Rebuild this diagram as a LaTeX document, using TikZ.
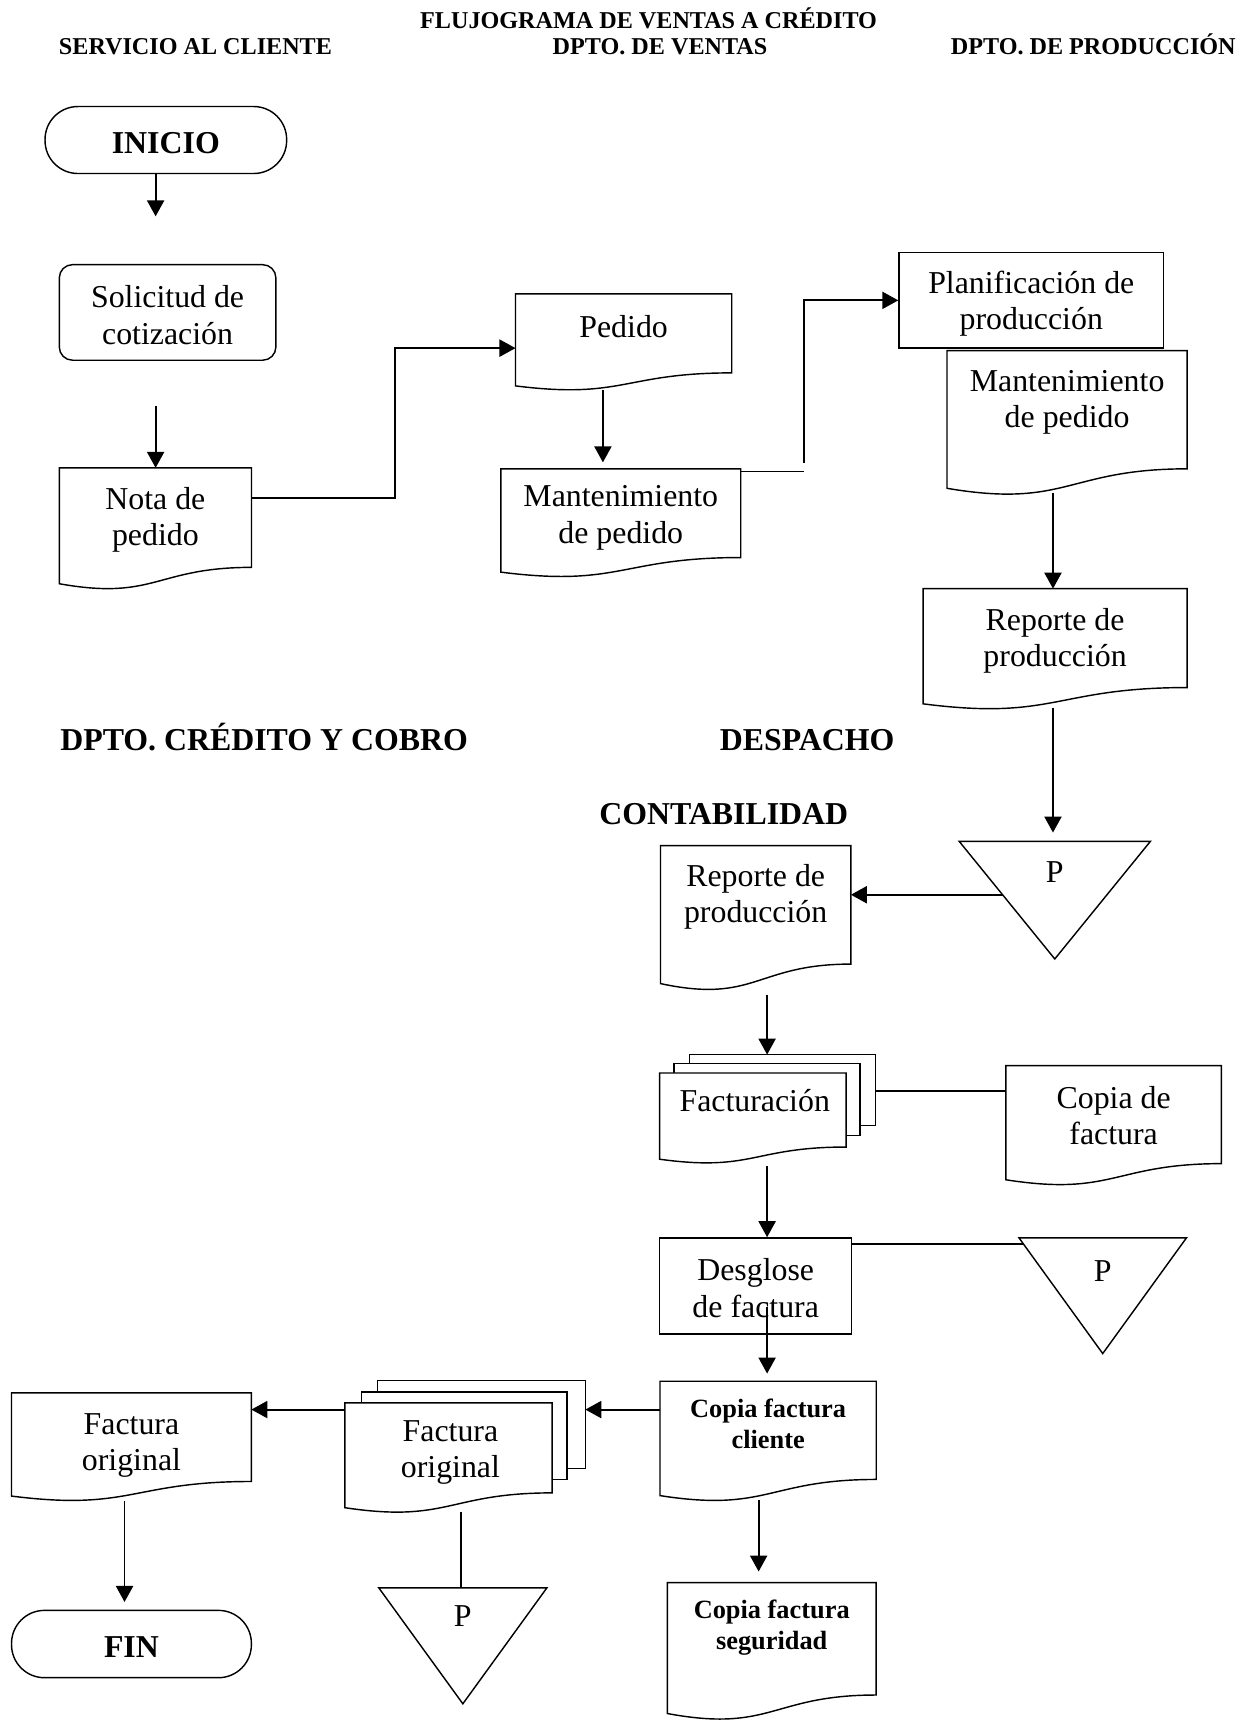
\documentclass[tikz,border=0pt]{standalone}
\usepackage{fontspec}
\setmainfont{Liberation Serif}
\usetikzlibrary{arrows.meta,calc}
\pgfdeclarelayer{bg}
\pgfsetlayers{bg,main}

% document symbol: flat top, wavy bottom (right end higher than left end)
\newcommand\flowdoc[1]{%
  \draw[outl] (#1.north west) -- (#1.north east)
    -- ($(#1.north east)!0.802!(#1.south east)$)
    .. controls ($(#1.north)!0.802!(#1.south)$) and ($(#1.north)!1.072!(#1.south)$)
    .. ($(#1.north west)!0.934!(#1.south west)$) -- cycle;}
% merge symbol: triangle pointing down inside the node's box
\newcommand\flowtri[1]{%
  \draw[outl] (#1.north west) -- (#1.north east) -- (#1.south) -- cycle;}

\tikzset{
  outl/.style={draw=black, line width=0.65pt, fill=white},
  arr/.style={draw=black, line width=0.85pt, -{Triangle[length=7.3pt,width=7.8pt]}},
  ln/.style={draw=black, line width=0.85pt},
  area/.style={draw=none, inner sep=0pt, outer sep=0pt, anchor=north west},
  body/.style={font=\fontsize{14.5}{16.5}\selectfont, align=center, inner sep=0pt},
  bodyb/.style={font=\fontsize{12}{14}\selectfont\bfseries, align=center, inner sep=0pt},
  caps/.style={font=\fontsize{14.5}{16.5}\selectfont\bfseries, inner sep=0pt, text height=9.6pt, text depth=0pt},
  hdr/.style={font=\fontsize{11}{13}\selectfont\bfseries, inner sep=0pt, text height=7.3pt, text depth=0pt},
  term/.style={draw=black, line width=0.65pt, rounded corners=15pt, inner sep=0pt,
    font=\fontsize{14.5}{16.5}\selectfont\bfseries, text height=12.6pt, text depth=0pt},
  rbox/.style={draw=black, line width=0.65pt, inner sep=0pt},
}

\begin{document}
\begin{tikzpicture}[x=0.5pt,y=-0.5pt]
\useasboundingbox (0,0) rectangle (1136,1568);

% headings
\node[hdr] (title) at (590.6,19) {FLUJOGRAMA DE VENTAS A CRÉDITO};
\node[hdr] (hsc) at (178,42) {SERVICIO AL CLIENTE};
\node[hdr] (hdv) at (601,42) {DPTO. DE VENTAS};
\node[hdr] (hdp) at (995.5,42) {DPTO. DE PRODUCCIÓN};
\node[caps] (hcc) at (240.5,674) {DPTO. CRÉDITO Y COBRO};
\node[caps] (hdes) at (735,674) {DESPACHO};
\node[caps] (hcon) at (659,741) {CONTABILIDAD};

% servicio al cliente
\node[term, minimum width=110pt, minimum height=30.5pt] (inicio) at (151,127.5) {INICIO};
\node[rbox, rounded corners=6pt, minimum width=98.6pt, minimum height=43.5pt,
  label={[body,anchor=center,yshift=-1.25pt]center:{Solicitud de\\cotización}}] (solicitud) at (152.6,284.5) {};
\node[area, minimum width=87.5pt, minimum height=56.5pt,
  label={[body,anchor=center,yshift=-23.75pt]north:{Nota de\\pedido}}] (nota) at (54,426) {};

% ventas
\node[area, minimum width=98.45pt, minimum height=44.85pt,
  label={[body,anchor=center,yshift=-14.7pt]north:{Pedido}}] (pedido) at (469.4,267.6) {};
\node[area, minimum width=109.25pt, minimum height=50.3pt,
  label={[body,anchor=center,yshift=-22.25pt]north:{Mantenimiento\\de pedido}}] (mant1) at (456,427) {};

% produccion
\node[rbox, minimum width=120.45pt, minimum height=43.5pt,
  label={[body,anchor=center,yshift=-1.5pt]center:{Planificación de\\producción}}] (plan) at (939.05,273.5) {};
\node[area, minimum width=109.35pt, minimum height=67.15pt,
  label={[body,anchor=center,yshift=-23.7pt]north:{Mantenimiento\\de pedido}}] (mant2) at (862.3,319.2) {};
\node[area, minimum width=120.25pt, minimum height=56.15pt,
  label={[body,anchor=center,yshift=-23.75pt]north:{Reporte de\\producción}}] (rep1) at (840.5,536) {};
\node[area, minimum width=87.05pt, minimum height=53.55pt,
  label={[body,anchor=center,yshift=-14.15pt]north:{P}}] (tri1) at (873.4,766.1) {};

% contabilidad
\node[area, minimum width=86.7pt, minimum height=67.25pt,
  label={[body,anchor=center,yshift=-23.45pt]north:{Reporte de\\producción}}] (rep2) at (601.4,770) {};
\node[area, minimum width=84.85pt, minimum height=42.05pt,
  label={[body,anchor=center,yshift=-12.6pt,xshift=0.85pt]north:{Facturación}}] (fact) at (600.7,977) {};
\node[area, minimum width=98.15pt, minimum height=55.65pt,
  label={[body,anchor=center,yshift=-22.65pt]north:{Copia de\\factura}}] (copia) at (915.9,970.3) {};
\node[rbox, minimum width=87.4pt, minimum height=43.7pt,
  label={[body,anchor=center,yshift=-1pt]center:{Desglose\\de factura}}] (desglose) at (688.1,1170.9) {};
\node[area, minimum width=76.2pt, minimum height=52.65pt,
  label={[body,anchor=center,yshift=-14.9pt]north:{P}}] (tri2) at (927.9,1127.2) {};
\node[area, minimum width=98.45pt, minimum height=55.75pt,
  label={[bodyb,anchor=center,yshift=-19.55pt]north:{Copia factura\\cliente}}] (cliente) at (601,1257.7) {};
\node[area, minimum width=95pt, minimum height=63.85pt,
  label={[bodyb,anchor=center,yshift=-20.6pt]north:{Copia factura\\seguridad}}] (seg) at (607.7,1441) {};

% credito y cobro
\node[area, minimum width=94.35pt, minimum height=51.1pt,
  label={[body,anchor=center,yshift=-22.7pt,xshift=0.9pt]north:{Factura\\original}}] (fom) at (314,1277.4) {};
\node[area, minimum width=109.2pt, minimum height=50.3pt,
  label={[body,anchor=center,yshift=-24.1pt]north:{Factura\\original}}] (fo1) at (10.5,1268.3) {};
\node[area, minimum width=76.55pt, minimum height=52.8pt,
  label={[body,anchor=center,yshift=-12.9pt]north:{P}}] (tri3) at (344.9,1445.8) {};
\node[term, minimum width=109.2pt, minimum height=30.65pt] (fin) at (119.7,1497) {FIN};

% page background, outlines of documents and merge symbols
\begin{pgfonlayer}{bg}
  \fill[white] (0,0) rectangle (1136,1568);
  \flowdoc{nota}
  \flowdoc{pedido}
  \flowdoc{mant1}
  \flowdoc{mant2}
  \flowdoc{rep1}
  \flowdoc{rep2}
  \flowdoc{copia}
  \flowdoc{cliente}
  \flowdoc{seg}
  \flowdoc{fo1}
  % stacked pages behind the multi-documents
  \draw[outl] ($(fact.north west)+(27.1,-16.7)$) rectangle ($(fact.north east)+(26.6,48)$);
  \draw[outl] ($(fact.north west)+(13.2,-8.5)$) rectangle ($(fact.north east)+(12.7,57)$);
  \flowdoc{fact}
  \draw[outl] ($(fom.north west)+(29.8,-20.4)$) rectangle ($(fom.north east)+(30.3,59.8)$);
  \draw[outl] ($(fom.north west)+(15.2,-10)$) rectangle ($(fom.north east)+(13.6,69.8)$);
  \flowdoc{fom}
  \flowtri{tri1}
  \flowtri{tri2}
  \flowtri{tri3}
\end{pgfonlayer}

% connectors
\coordinate (c1) at (141.7,197);
\draw[arr] (c1 |- inicio.south) -- (c1);
\coordinate (c2) at (141.7,370);
\draw[arr] (c2) -- (c2 |- nota.north);
\coordinate (k1) at (360,317);
\draw[arr] ($(nota.north east)+(0,27.6)$) -| (k1) -- (k1 -| pedido.west);
\coordinate (c3) at (549,355);
\draw[arr, shorten >=3pt] (c3) -- (c3 |- mant1.north);
\coordinate (k2) at (731.8,429.3);
\draw[ln] (k2 -| mant1.east) -- (k2);
\coordinate (k3) at (731.8,421.6);
\draw[arr] (k3) |- (plan.west);
\coordinate (c4) at (958.8,449);
\draw[arr] (c4) -- (c4 |- rep1.north);
\coordinate (c5) at (958.8,645);
\draw[arr, shorten >=4pt] (c5) -- (c5 |- tri1.north);
\coordinate (t1) at ($(tri1.north west)!0.454!(tri1.south)$);
\draw[arr] (t1) -- (t1 -| rep2.east);
\coordinate (c6) at (698.5,905.7);
\draw[arr] (c6) -- ($(c6 |- fact.north)+(0,-16.7)$);
\coordinate (k4) at (797,993.7);
\draw[ln] (k4) -- (k4 -| copia.west);
\coordinate (c7) at (698.5,1062);
\draw[arr] (c7) -- (c7 |- desglose.north);
\coordinate (t2) at ($(tri2.north west)!0.051!(tri2.south)$);
\draw[ln] (t2 -| desglose.east) -- (t2);
\coordinate (c8) at (698.5,1190);
\draw[arr, shorten >=3.5pt] (c8) -- (c8 |- cliente.north);
\coordinate (k5) at (533,1283.5);
\draw[arr] (k5 -| cliente.west) -- (k5);
\draw[arr] (k5 -| fom.west) -- (k5 -| fo1.east);
\coordinate (c9) at (113.4,1366.9);
\draw[arr, shorten >=3.5pt] (c9) -- (c9 |- fin.north);
\coordinate (c10) at (419.6,1376.6);
\draw[ln] (c10) -- (c10 |- tri3.north);
\coordinate (c11) at (690.8,1366);
\draw[arr, shorten >=5pt] (c11) -- (c11 |- seg.north);
\end{tikzpicture}
\end{document}
